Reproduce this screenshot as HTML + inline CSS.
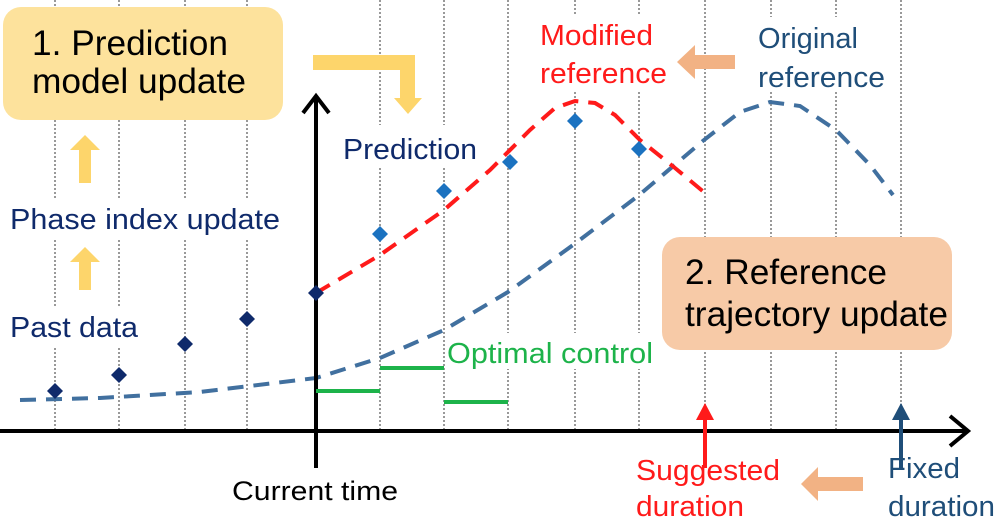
<!DOCTYPE html>
<html><head><meta charset="utf-8"><style>
html,body{margin:0;padding:0;background:#fff;}
svg{display:block;font-family:"Liberation Sans",Arial,sans-serif;}
</style></head><body>
<svg width="995" height="519" viewBox="0 0 995 519" xmlns="http://www.w3.org/2000/svg">
<g stroke="#999" stroke-width="2" stroke-dasharray="2,2">
<line x1="55" y1="0" x2="55" y2="430"/><line x1="119" y1="0" x2="119" y2="430"/>
<line x1="185" y1="0" x2="185" y2="430"/><line x1="247" y1="0" x2="247" y2="430"/>
<line x1="380" y1="0" x2="380" y2="430"/><line x1="444" y1="0" x2="444" y2="430"/>
<line x1="508" y1="0" x2="508" y2="430"/><line x1="575" y1="0" x2="575" y2="430"/>
<line x1="639" y1="0" x2="639" y2="430"/><line x1="705" y1="0" x2="705" y2="430"/>
<line x1="771" y1="0" x2="771" y2="430"/><line x1="836" y1="0" x2="836" y2="430"/>
<line x1="901" y1="0" x2="901" y2="430"/>
</g>
<g fill="#fff">
<rect x="8" y="198" width="280" height="42"/>
<rect x="340" y="125" width="145" height="42"/>
<rect x="8" y="308" width="140" height="38"/>
<rect x="445" y="333" width="215" height="36"/>
<rect x="535" y="15" width="125" height="75"/>
<rect x="752" y="17" width="140" height="75"/>
</g>
<rect x="3" y="7" width="280" height="113" rx="18" fill="#fde29c"/>
<rect x="662" y="237" width="290" height="113" rx="18" fill="#f7caa7"/>
<polyline fill="none" stroke="#41709f" stroke-width="4" stroke-dasharray="16,10" points="20,400 100,398 200,392 316,378 380,358 444,330 508,292 573,245 638,196 704,140 740,112 770,102 800,106 836,130 870,165 893,195"/>
<polyline fill="none" stroke="#ff1a1a" stroke-width="4" stroke-dasharray="16,10" points="316,293 380,255 444,210 490,170 530,130 555,108 575,101 595,103 615,115 640,140 675,168 705,193"/>
<line x1="0" y1="431" x2="966" y2="431" stroke="#000" stroke-width="4"/>
<polyline points="950,416 968,431 950,446" fill="none" stroke="#000" stroke-width="4"/>
<line x1="316" y1="468" x2="316" y2="98" stroke="#000" stroke-width="4"/>
<polyline points="303,113 316,96 329,113" fill="none" stroke="#000" stroke-width="4"/>
<g stroke="#1db34a" stroke-width="4">
<line x1="316" y1="391" x2="380" y2="391"/><line x1="380" y1="368" x2="444" y2="368"/><line x1="444" y1="402" x2="508" y2="402"/>
</g>
<g fill="#0f2a6b">
<path d="M55,383 l8,8 -8,8 -8,-8z"/><path d="M119,367 l8,8 -8,8 -8,-8z"/>
<path d="M185,336 l8,8 -8,8 -8,-8z"/><path d="M247,311 l8,8 -8,8 -8,-8z"/>
<path d="M316,285 l8,8 -8,8 -8,-8z"/>
</g>
<g fill="#1b72c0">
<path d="M380,226 l8,8 -8,8 -8,-8z"/><path d="M444,183 l8,8 -8,8 -8,-8z"/>
<path d="M510,154 l8,8 -8,8 -8,-8z"/><path d="M575,113 l8,8 -8,8 -8,-8z"/>
<path d="M639,141 l8,8 -8,8 -8,-8z"/>
</g>
<g fill="#fdd56b">
<path d="M313,55 H415 V98 H422 L408,114 L394,98 H400 V70 H313 Z"/>
<path d="M79,183 V150 H70 L85,135 L100,150 H91 V183 Z"/>
<path d="M79,290 V262 H70 L85,247 L100,262 H91 V290 Z"/>
</g>
<g fill="#f2b284">
<path d="M735,55 H695 V45 L677,62 L695,79 V69 H735 Z"/>
<path d="M863,477 H818 V467 L801,484 L818,501 V491 H863 Z"/>
</g>
<line x1="705" y1="468" x2="705" y2="418" stroke="#ff1a1a" stroke-width="4"/>
<path d="M696,420 L705,403 L714,420 Z" fill="#ff1a1a"/>
<line x1="901" y1="468" x2="901" y2="418" stroke="#1f4e79" stroke-width="4"/>
<path d="M892,420 L901,403 L910,420 Z" fill="#1f4e79"/>
<g font-size="35.5" fill="#000">
<text x="32" y="55" textLength="196" lengthAdjust="spacingAndGlyphs">1. Prediction</text>
<text x="32" y="93" textLength="214" lengthAdjust="spacingAndGlyphs">model update</text>
<text x="685" y="284" textLength="202" lengthAdjust="spacingAndGlyphs">2. Reference</text>
<text x="685" y="326" textLength="263" lengthAdjust="spacingAndGlyphs">trajectory update</text>
</g>
<g font-size="29" fill="#0f2a6b">
<text x="343" y="159" textLength="134" lengthAdjust="spacingAndGlyphs">Prediction</text>
<text x="10" y="229" textLength="270" lengthAdjust="spacingAndGlyphs">Phase index update</text>
<text x="10" y="337" textLength="128" lengthAdjust="spacingAndGlyphs">Past data</text>
</g>
<text x="447" y="363" font-size="29" fill="#1db34a" textLength="206" lengthAdjust="spacingAndGlyphs">Optimal control</text>
<g font-size="29" fill="#ff1a1a">
<text x="540" y="45" textLength="113" lengthAdjust="spacingAndGlyphs">Modified</text>
<text x="540" y="83" textLength="127" lengthAdjust="spacingAndGlyphs">reference</text>
<text x="636" y="480" textLength="144" lengthAdjust="spacingAndGlyphs">Suggested</text>
<text x="636" y="516" textLength="108" lengthAdjust="spacingAndGlyphs">duration</text>
</g>
<g font-size="29" fill="#1f4e79">
<text x="758" y="48" textLength="100" lengthAdjust="spacingAndGlyphs">Original</text>
<text x="758" y="87" textLength="127" lengthAdjust="spacingAndGlyphs">reference</text>
<text x="888" y="478" textLength="72" lengthAdjust="spacingAndGlyphs">Fixed</text>
<text x="888" y="516" textLength="107" lengthAdjust="spacingAndGlyphs">duration</text>
</g>
<text x="232" y="500" font-size="27" fill="#000" textLength="166" lengthAdjust="spacingAndGlyphs">Current time</text>
</svg>
</body></html>
